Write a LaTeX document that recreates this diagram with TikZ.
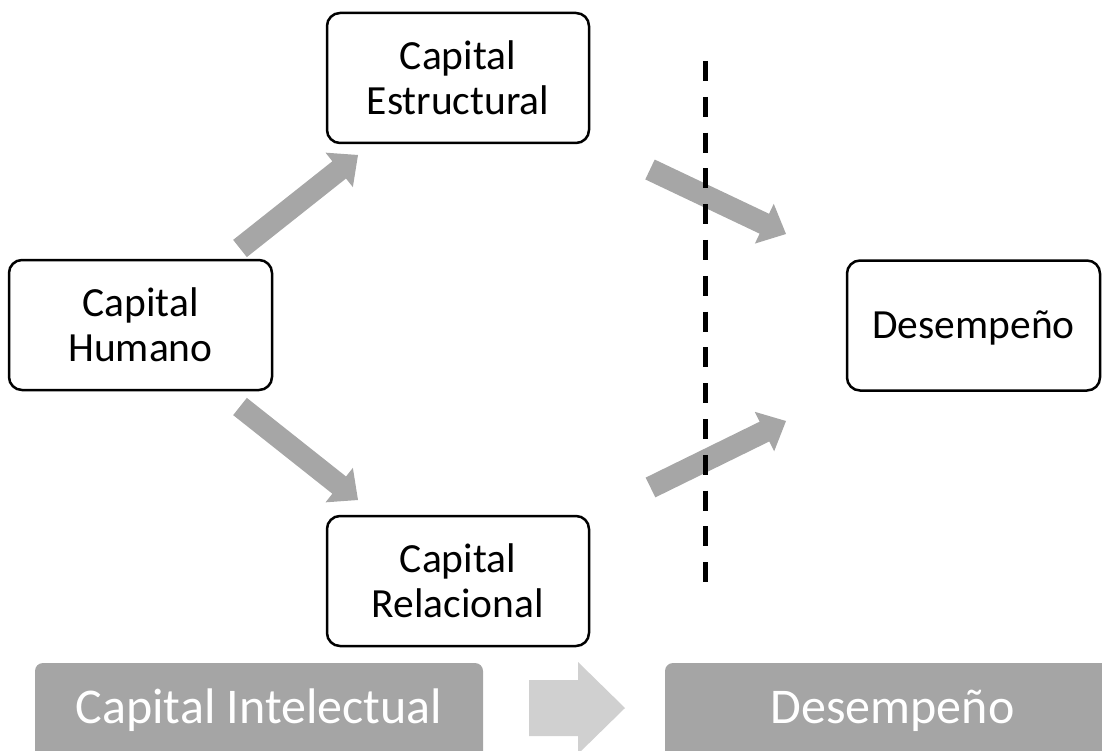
\documentclass[tikz,border=0pt]{standalone}
\usepackage{fontspec}
\setmainfont{Carlito}
\usetikzlibrary{calc}
\definecolor{arrowgray}{HTML}{A6A6A6}
\definecolor{bargray}{HTML}{A5A5A5}
\definecolor{lightarrow}{HTML}{D0D0D0}
\newcommand\blockarrow[3]{%
  \coordinate (#3) at ($(#2)!24pt!(#1)$);
  \fill[arrowgray] ($(#1)!11pt!90:(#2)$) -- ($(#3)!11pt!90:(#2)$) -- ($(#3)!22pt!90:(#2)$) -- (#2)
    -- ($(#3)!22pt!-90:(#2)$) -- ($(#3)!11pt!-90:(#2)$) -- ($(#1)!11pt!-90:(#2)$) -- cycle;}
\begin{document}
\begin{tikzpicture}[x=1pt,y=-1pt,
  box/.style={draw=black, line width=2.5pt, fill=white, rounded corners=13pt,
    minimum height=130pt, inner sep=0pt, align=center,
    font=\fontsize{41.5}{45}\selectfont},
  bar/.style={fill=bargray, rounded corners=8pt},
  bartext/.style={text=white, anchor=base, inner sep=0pt, font=\fontsize{50}{60}\selectfont},
  dashline/.style={draw=black, line width=5pt, dash pattern=on 20pt off 15.8pt}]
\useasboundingbox (0,0) rectangle (1102,751);
\clip (0,0) rectangle (1102,751);

% boxes
\node[box, minimum width=262pt] (est) at (458,78) {Capital\\Estructural};
\node[box, minimum width=263pt] (hum) at (140.5,325) {Capital\\Humano};
\node[box, minimum width=262pt] (rel) at (458,581) {Capital\\Relacional};
\node[box, minimum width=253pt, text height=25pt, text depth=0pt] (des) at (973.5,325.5) {Desempeño};

% block arrows
\coordinate (a1t) at (240,248.5); \coordinate (a1h) at (358,155);
\coordinate (a2t) at (240,406.5); \coordinate (a2h) at (358,500);
\coordinate (a3t) at (650,169.5); \coordinate (a3h) at (786,234);
\coordinate (a4t) at (650.5,487.5); \coordinate (a4h) at (786,421);
\blockarrow{a1t}{a1h}{a1b}
\blockarrow{a2t}{a2h}{a2b}
\blockarrow{a3t}{a3h}{a3b}
\blockarrow{a4t}{a4h}{a4b}

% dashed divider
\coordinate (dtop) at (705,61);
\coordinate (dbot) at (705,582);
\draw[dashline] (dtop) -- (dbot);

% bottom bars
\fill[bar] (35,663) rectangle (483,775);
\fill[bar] (665,663) rectangle (1130,775);
\node[bartext] (cil) at (259,723) {Capital Intelectual};
\node[bartext] (dbl) at (892.5,723) {Desempeño};
\fill[lightarrow] (529,680) -- (578,680) -- (578,662) -- (625,708) -- (578,754) -- (578,736) -- (529,736) -- cycle;
\end{tikzpicture}
\end{document}
